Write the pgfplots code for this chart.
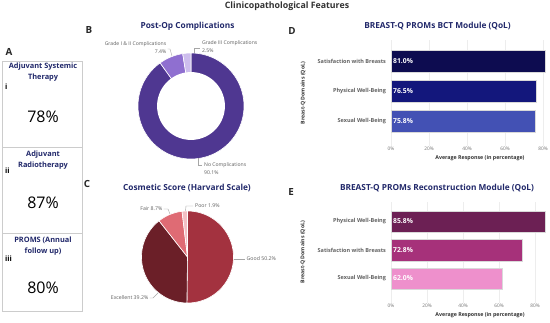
\documentclass[border=0pt]{standalone}
\usepackage{pgfplots}
\pgfplotsset{compat=1.18}
\usepgfplotslibrary{polar}
\usepackage{fontspec}
\setmainfont{Open Sans}
\newcommand\fs[1]{\fontsize{#1}{#1}\selectfont}
\definecolor{navy}{HTML}{22296B}
\definecolor{dNo}{HTML}{4F3791}
\definecolor{dGa}{HTML}{8F6FD0}
\definecolor{dGb}{HTML}{CDBDED}
\definecolor{pGood}{HTML}{A3323F}
\definecolor{pExc}{HTML}{6B1F28}
\definecolor{pFair}{HTML}{DF6B74}
\definecolor{pPoor}{HTML}{F3BFC4}
\definecolor{bA}{HTML}{0D0C50}
\definecolor{bB}{HTML}{13177C}
\definecolor{bC}{HTML}{4351B4}
\definecolor{rA}{HTML}{6C2054}
\definecolor{rB}{HTML}{A6317A}
\definecolor{rC}{HTML}{EE90CC}
\definecolor{lbl}{HTML}{5E5E5E}
\pgfplotsset{
  barax/.style={
    scale only axis, anchor=south west, xmin=0, enlargelimits=false,
    axis line style={draw=none}, major tick length=0pt,
    xtick={0,20,40,60,80}, xticklabels={0\%,20\%,40\%,60\%,80\%},
    ytick={0,1,2},
    xmajorgrids, grid style={black!7,line width=0.4pt},
    xticklabel style={font=\fs{4.8}, text=black!55, inner sep=1pt},
    yticklabel style={font=\fs{5.5}\bfseries, text=black!62, xshift=-1.5pt},
    xlabel={Average Response (in percentage)},
    ylabel={Breast-Q Domains (QoL)},
    x label style={anchor=center, font=\fs{5.3}\bfseries, text=black!80},
    y label style={anchor=center, font=\fs{5.2}\bfseries, text=black!80},
    clip=false
  },
  vallab/.style={draw=none, mark=none, nodes near coords, point meta=explicit symbolic,
    nodes near coords style={anchor=west, font=\fs{6.8}\bfseries, text=white, inner sep=2pt}},
  pieax/.style={hide axis, scale only axis, ymin=0, ymax=1, xmin=-270, xmax=90, anchor=origin, clip=false}
}
\begin{document}
\begin{tikzpicture}[x=1pt,y=1pt]
\path[fill=white, use as bounding box] (0,0) rectangle (550,322);
% main title
\node[font=\fs{8.8}\bfseries, text=black!80] at (287,315.5) {Clinicopathological Features};
% panel letters
\foreach \l/\px/\py in {A/9/270, B/89/292, C/87/138, D/292/291, E/291/130}
  \node[font=\fs{9.8}\bfseries, text=black!85] at (\px,\py) {\l};
% panel titles
\node[font=\fs{8.3}\bfseries, text=navy] at (187.5,296) {Post-Op Complications};
\node[font=\fs{8.3}\bfseries, text=navy] at (187,134) {Cosmetic Score (Harvard Scale)};
\node[font=\fs{8.3}\bfseries, text=navy] at (437.5,296) {BREAST-Q PROMs BCT Module (QoL)};
\node[font=\fs{8.3}\bfseries, text=navy] at (437,134) {BREAST-Q PROMs Reconstruction Module (QoL)};
% panel A
\draw[black!20, line width=0.8pt] (2,261) rectangle (82,175);
\draw[black!20, line width=0.8pt] (2,175) rectangle (82,89);
\draw[black!20, line width=0.8pt] (2,89) rectangle (82,11);
\node[align=center, font=\fontsize{7.4}{11}\selectfont\bfseries, text=navy] at (43,249.5) {Adjuvant Systemic\\Therapy};
\node[align=center, font=\fontsize{7.4}{11}\selectfont\bfseries, text=navy] at (43,162) {Adjuvant\\Radiotherapy};
\node[align=center, font=\fontsize{7.4}{11}\selectfont\bfseries, text=navy] at (43,75.5) {PROMS (Annual\\follow up)};
\node[anchor=west, font=\fs{7.4}\bfseries, inner sep=0pt] at (5,235) {i};
\node[anchor=west, font=\fs{7.4}\bfseries, inner sep=0pt] at (5,151) {ii};
\node[anchor=west, font=\fs{7.4}\bfseries, inner sep=0pt] at (5,63) {iii};
\node[font=\fs{16}, text=black] at (43,205) {78\%};
\node[font=\fs{16}, text=black] at (43,119) {87\%};
\node[font=\fs{16}, text=black] at (43,34) {80\%};

% donut (B)
\pgfmathsetmacro\aA{90-3.6*90.1}
\pgfmathsetmacro\aB{90-3.6*(90.1+7.4)}
\pgfmathsetmacro\aC{90-3.6*(90.1+7.4+2.5)}
\begin{polaraxis}[pieax, width=106pt, height=106pt, at={(191pt,216pt)}]
\addplot[fill=dNo, draw=white, line width=0.6pt, domain=\aA:90, samples=120] {1} -- (axis cs:0,0) -- cycle;
\addplot[fill=dGa, draw=white, line width=0.6pt, domain=\aB:\aA, samples=20] {1} -- (axis cs:0,0) -- cycle;
\addplot[fill=dGb, draw=white, line width=0.6pt, domain=\aC:\aB, samples=10] {1} -- (axis cs:0,0) -- cycle;
\addplot[fill=white, draw=none, domain=-270:90, samples=120] {0.64} -- cycle;
\end{polaraxis}
% donut labels
\draw[black!35, line width=0.4pt] (172,266) -- (170,273) -- (167.5,273);
\node[anchor=east, font=\fs{5.1}, text=lbl, inner sep=0pt] at (166.5,278) {Grade I \& II Complications};
\node[anchor=east, font=\fs{5.1}, text=lbl, inner sep=0pt] at (166.5,270) {7.4\%};
\draw[black!35, line width=0.4pt] (194.5,269) -- (194.5,274) -- (199.5,274);
\node[anchor=west, font=\fs{5.1}, text=lbl, inner sep=0pt] at (202,279) {Grade III Complications};
\node[anchor=west, font=\fs{5.1}, text=lbl, inner sep=0pt] at (202,271) {2.5\%};
\draw[black!35, line width=0.4pt] (198,163.5) -- (198,157) -- (202,157);
\node[anchor=west, font=\fs{5.1}, text=lbl, inner sep=0pt] at (204,157) {No Complications};
\node[anchor=west, font=\fs{5.1}, text=lbl, inner sep=0pt] at (204,149) {90.1\%};

% pie (C)
\pgfmathsetmacro\bA{90-3.6*50.2}
\pgfmathsetmacro\bB{90-3.6*(50.2+39.2)}
\pgfmathsetmacro\bC{90-3.6*(50.2+39.2+8.7)}
\pgfmathsetmacro\bD{90-3.6*(50.2+39.2+8.7+1.9)}
\begin{polaraxis}[pieax, width=92pt, height=92pt, at={(187.5pt,65pt)}]
\addplot[fill=pGood, draw=white, line width=0.6pt, domain=\bA:90, samples=100] {1} -- (axis cs:0,0) -- cycle;
\addplot[fill=pExc, draw=white, line width=0.6pt, domain=\bB:\bA, samples=80] {1} -- (axis cs:0,0) -- cycle;
\addplot[fill=pFair, draw=white, line width=0.6pt, domain=\bC:\bB, samples=20] {1} -- (axis cs:0,0) -- cycle;
\addplot[fill=pPoor, draw=white, line width=0.6pt, domain=\bD:\bC, samples=8] {1} -- (axis cs:0,0) -- cycle;
\end{polaraxis}
% pie labels
\draw[black!35, line width=0.4pt] (170,108) -- (168,113) -- (163.5,113);
\node[anchor=east, font=\fs{5.2}, text=black!62, inner sep=0pt] at (162.5,113) {Fair 8.7\%};
\draw[black!35, line width=0.4pt] (185.5,111) -- (186,116) -- (193,116);
\node[anchor=west, font=\fs{5.2}, text=black!62, inner sep=0pt] at (195,116) {Poor 1.9\%};
\draw[black!35, line width=0.4pt] (234,63) -- (245,63);
\node[anchor=west, font=\fs{5.2}, text=black!62, inner sep=0pt] at (246.5,63) {Good 50.2\%};
\draw[black!35, line width=0.4pt] (158,29) -- (153,24) -- (149.5,24);
\node[anchor=east, font=\fs{5.2}, text=black!62, inner sep=0pt] at (148.5,24) {Excellent 39.2\%};

% BCT bars (D)
\begin{axis}[barax, at={(391pt,176pt)}, width=155.8pt, height=105.9pt, xmax=82, ymin=-0.83, ymax=2.7,
  yticklabels={Sexual Well-Being,Physical Well-Being,Satisfaction with Breasts},
  x label style={at={(axis description cs:0.571,0)}, yshift=-12pt},
  y label style={at={(axis description cs:-0.565,0.5)}}]
\addplot[xbar, bar width=22pt, bar shift=0pt, fill=bA, draw=black!15, line width=0.5pt] coordinates {(81.0,2)};
\addplot[xbar, bar width=22pt, bar shift=0pt, fill=bB, draw=black!15, line width=0.5pt] coordinates {(76.5,1)};
\addplot[xbar, bar width=22pt, bar shift=0pt, fill=bC, draw=black!15, line width=0.5pt] coordinates {(75.8,0)};
\addplot[vallab] coordinates {(0,2) [81.0\%] (0,1) [76.5\%] (0,0) [75.8\%]};
\end{axis}

% Reconstruction bars (E)
\begin{axis}[barax, at={(391pt,19.5pt)}, width=155.7pt, height=100.9pt, xmax=86.5, ymin=-0.84, ymax=2.7,
  yticklabels={Sexual Well-Being,Satisfaction with Breasts,Physical Well-Being},
  x label style={at={(axis description cs:0.572,0)}, yshift=-12.5pt},
  y label style={at={(axis description cs:-0.566,0.5)}}]
\addplot[xbar, bar width=21.5pt, bar shift=0pt, fill=rA, draw=black!15, line width=0.5pt] coordinates {(85.8,2)};
\addplot[xbar, bar width=21.5pt, bar shift=0pt, fill=rB, draw=black!15, line width=0.5pt] coordinates {(72.8,1)};
\addplot[xbar, bar width=21.5pt, bar shift=0pt, fill=rC, draw=black!15, line width=0.5pt] coordinates {(62.0,0)};
\addplot[vallab] coordinates {(0,2) [85.8\%] (0,1) [72.8\%] (0,0) [62.0\%]};
\end{axis}
\end{tikzpicture}
\end{document}
